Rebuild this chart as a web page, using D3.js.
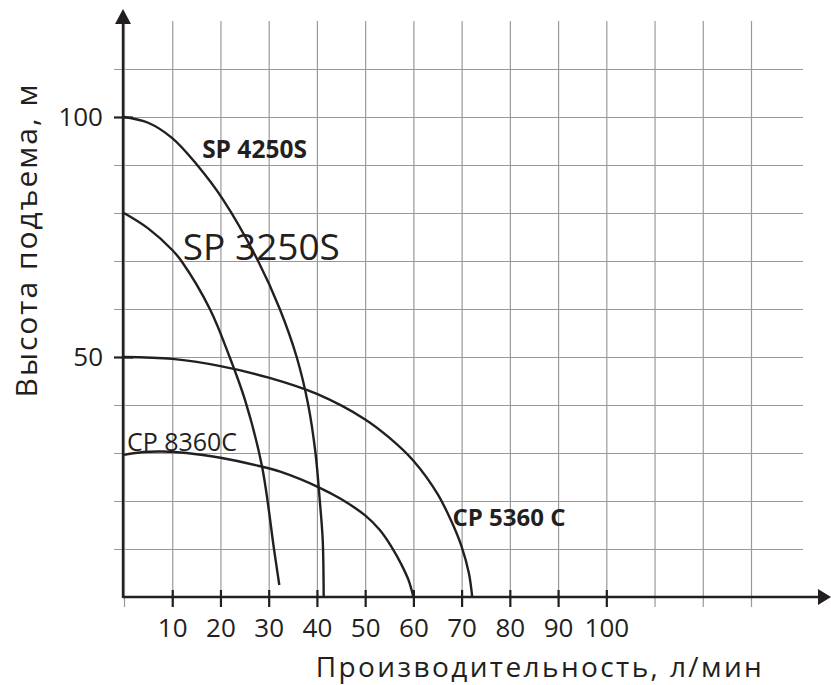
<!DOCTYPE html>
<html>
<head>
<meta charset="utf-8">
<script src="https://cdn.jsdelivr.net/npm/d3@7"></script>
<style>
  body { margin: 0; background: #fff; }
  svg { display: block; font-family: "Open Sans", sans-serif; }
</style>
</head>
<body>
<script>
const svgWidth = 831
const svgHeight = 685

// tick labels / grid
const xTicks = [10, 20, 30, 40, 50, 60, 70, 80, 90, 100]
const xGrid = [0, 10, 20, 30, 40, 50, 60, 70, 80, 90, 100, 110, 120, 130]
const yTicks = [50, 100]
const yGrid = [10, 20, 30, 40, 50, 60, 70, 80, 90, 100, 110]

// pump curves: [flow l/min, head m]
const sp4250 = [[0,100],[5,98.8],[10,95.6],[15,90.2],[20.6,82.7],[27.8,70],[32.3,60],[35.8,50],[38.2,40],[39.7,30],[40.6,20],[41.2,11.9],[41.4,0]]
const sp3250 = [[0,80],[5,76.8],[10,72.3],[11.9,70],[17.8,60],[21.9,50],[25.1,41],[28.6,27.3],[31.1,10],[32.2,2.5]]
const cp5360 = [[0,50],[10,49.6],[20,48.1],[30,45.7],[40,42.3],[50,37],[55,33.2],[60,28.4],[65,21.5],[68,15.5],[70,10.5],[71.5,5],[72.2,0]]
const cp8360 = [[0,29.6],[4,30.2],[8,30.3],[13,30],[20,29],[28,27.3],[32.4,26.1],[40.7,22.7],[45,20.4],[50,17],[53,14],[55.5,10.4],[57.5,6.8],[59,3.5],[60,0]]

const seriesNames = ["SP 4250S", "SP 3250S", "CP 5360 C", "CP 8360C"]

const ink = "#231f20"

const svg = d3.select("body").append("svg")
    .attr("width", svgWidth)
    .attr("height", svgHeight)

const x = d3.scaleLinear().domain([0, 130]).range([124, 751])
const y = d3.scaleLinear().domain([0, 110]).range([597, 69])

// grid
svg.append("g")
    .attr("transform", `translate(0, 607)`)
    .call(d3.axisBottom(x).tickValues(xGrid).tickSize(-(607 - 21)).tickFormat(""))
    .call(g => g.select(".domain").remove())
    .call(g => g.selectAll("line").attr("stroke", "#999").attr("stroke-width", 1.2))

svg.append("g")
    .attr("transform", `translate(114, 0)`)
    .call(d3.axisLeft(y).tickValues(yGrid).tickSize(-(803 - 114)).tickFormat(""))
    .call(g => g.select(".domain").remove())
    .call(g => g.selectAll("line").attr("stroke", "#999").attr("stroke-width", 1.2))

// curves
const line = d3.line()
    .x(d => x(d[0]))
    .y(d => y(d[1]))
    .curve(d3.curveCatmullRom.alpha(0.5))

svg.selectAll("path.curve")
    .data([sp4250, sp3250, cp5360, cp8360])
    .join("path")
    .attr("class", "curve")
    .attr("d", line)
    .attr("fill", "none")
    .attr("stroke", ink)
    .attr("stroke-width", 2.4)

// axes lines with arrows
svg.append("line")
    .attr("x1", x(0) - 1).attr("x2", 822)
    .attr("y1", y(0)).attr("y2", y(0))
    .attr("stroke", ink).attr("stroke-width", 2.4)
svg.append("path")
    .attr("d", `M831,${y(0)} L818,${y(0) - 8} L818,${y(0) + 8} Z`)
    .attr("fill", ink)

svg.append("line")
    .attr("x1", x(0) - 1).attr("x2", x(0) - 1)
    .attr("y1", y(0) + 1).attr("y2", 20)
    .attr("stroke", ink).attr("stroke-width", 2.4)
svg.append("path")
    .attr("d", `M${x(0) - 1},9 L${x(0) - 9},24 L${x(0) + 7},24 Z`)
    .attr("fill", ink)

// x ticks
svg.append("g")
    .attr("transform", `translate(0, 590)`)
    .call(d3.axisBottom(x).tickValues(xTicks).tickSize(17).tickPadding(12))
    .call(g => g.select(".domain").remove())
    .call(g => g.selectAll("line").attr("stroke", ink).attr("stroke-width", 2.2))
    .call(g => g.selectAll("text")
        .attr("fill", ink)
        .attr("font-family", "Open Sans")
        .attr("font-size", 26))

// y ticks
svg.append("g")
    .attr("transform", `translate(133, 0)`)
    .call(d3.axisLeft(y).tickValues(yTicks).tickSize(19).tickPadding(11))
    .call(g => g.select(".domain").remove())
    .call(g => g.selectAll("line").attr("stroke", ink).attr("stroke-width", 2.2))
    .call(g => g.selectAll("text")
        .attr("fill", ink)
        .attr("font-family", "Open Sans")
        .attr("font-size", 26))

// axis titles
svg.append("text")
    .attr("x", 540).attr("y", 677)
    .attr("text-anchor", "middle")
    .attr("font-size", 28)
    .attr("letter-spacing", 2.4)
    .attr("fill", ink)
    .text("Производительность, л/мин")

svg.append("text")
    .attr("transform", `translate(37, 240) rotate(-90)`)
    .attr("text-anchor", "middle")
    .attr("font-size", 30)
    .attr("letter-spacing", 2)
    .attr("fill", ink)
    .text("Высота подъема, м")

// curve labels
svg.append("text")
    .attr("x", x(16.2)).attr("y", 158)
    .attr("font-size", 24.5).attr("font-weight", "bold")
    .attr("fill", ink)
    .text(seriesNames[0])

svg.append("text")
    .attr("x", x(12.2)).attr("y", 260)
    .attr("font-size", 37)
    .attr("fill", ink)
    .text(seriesNames[1])

svg.append("text")
    .attr("x", x(68.1)).attr("y", 526)
    .attr("font-size", 24).attr("font-weight", "bold")
    .attr("fill", ink)
    .text(seriesNames[2])

svg.append("text")
    .attr("x", x(0.6)).attr("y", 451)
    .attr("font-size", 25)
    .attr("fill", ink)
    .text(seriesNames[3])
</script>
</body>
</html>
